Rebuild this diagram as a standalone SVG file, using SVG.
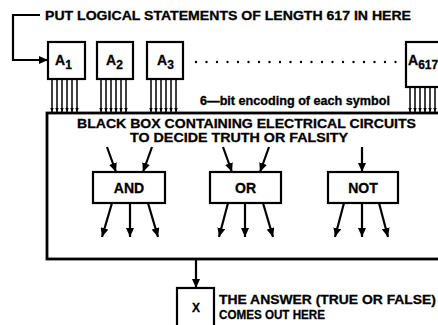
<svg xmlns="http://www.w3.org/2000/svg" width="438" height="325" viewBox="0 0 438 325">
<style>
text{font-family:"Liberation Sans",Arial,sans-serif;font-weight:bold;fill:#000;stroke:#000;stroke-width:0.3}
.box{fill:#fff;stroke:#000;stroke-width:2.2}
.big{fill:none;stroke:#000;stroke-width:2.8}
.ln{fill:none;stroke:#000;stroke-width:2.2}
.pin{fill:none;stroke:#000;stroke-width:1.5}
.lbl{font-size:14px;text-anchor:middle}
</style>
<defs>
<marker id="ah" markerUnits="userSpaceOnUse" markerWidth="10" markerHeight="8" refX="9" refY="4" orient="auto">
<path d="M0,0 L9,4 L0,8 Z" fill="#000"/>
</marker>
<marker id="ph" markerUnits="userSpaceOnUse" markerWidth="5" markerHeight="4" refX="4.5" refY="2" orient="auto">
<path d="M0,0 L4.5,2 L0,4 Z" fill="#000"/>
</marker>
<g id="pins">
<path class="pin" marker-end="url(#ph)" d="M4,0 V33"/>
<path class="pin" marker-end="url(#ph)" d="M9,0 V33"/>
<path class="pin" marker-end="url(#ph)" d="M14,0 V33"/>
<path class="pin" marker-end="url(#ph)" d="M19,0 V33"/>
<path class="pin" marker-end="url(#ph)" d="M24,0 V33"/>
<path class="pin" marker-end="url(#ph)" d="M29,0 V33"/>
</g>
</defs>
<rect width="438" height="325" fill="#fff"/>

<text x="45" y="19.5" font-size="12.5" textLength="366" lengthAdjust="spacingAndGlyphs">PUT LOGICAL STATEMENTS OF LENGTH 617 IN HERE</text>

<g id="connectors">
<path class="ln" marker-end="url(#ah)" d="M40,15 H13 V60 H48"/>
<use href="#pins" x="48" y="79"/>
<use href="#pins" x="97" y="79"/>
<use href="#pins" x="147" y="79"/>
<path class="pin" marker-end="url(#ph)" d="M410,87 V112"/>
<path class="pin" marker-end="url(#ph)" d="M415,87 V112"/>
<path class="pin" marker-end="url(#ph)" d="M420,87 V112"/>
<path class="pin" marker-end="url(#ph)" d="M425,87 V112"/>
<path class="pin" marker-end="url(#ph)" d="M430,87 V112"/>
<path class="pin" marker-end="url(#ph)" d="M435,87 V112"/>
<path class="ln" marker-end="url(#ah)" d="M107,147 L116,172"/>
<path class="ln" marker-end="url(#ah)" d="M152,147 L143,172"/>
<path class="ln" marker-end="url(#ah)" d="M223,147 L232,172"/>
<path class="ln" marker-end="url(#ah)" d="M269,147 L260,172"/>
<path class="ln" marker-end="url(#ah)" d="M362,147 V172"/>
<path class="ln" marker-end="url(#ah)" d="M112,203 L102,237"/>
<path class="ln" marker-end="url(#ah)" d="M130,203 V237"/>
<path class="ln" marker-end="url(#ah)" d="M148,203 L158,237"/>
<path class="ln" marker-end="url(#ah)" d="M228,203 L219,237"/>
<path class="ln" marker-end="url(#ah)" d="M245,203 V237"/>
<path class="ln" marker-end="url(#ah)" d="M263,203 L273,237"/>
<path class="ln" marker-end="url(#ah)" d="M344,203 L335,237"/>
<path class="ln" marker-end="url(#ah)" d="M362,203 V237"/>
<path class="ln" marker-end="url(#ah)" d="M379,203 L388,237"/>
<path class="ln" marker-end="url(#ah)" d="M196,259 V288"/>
</g>

<g id="A1"><rect class="box" x="48" y="42" width="37" height="37"/><text x="55" y="65" font-size="14">A<tspan font-size="12" dy="4">1</tspan></text></g>
<g id="A2"><rect class="box" x="97" y="42" width="36" height="37"/><text x="106" y="65" font-size="14">A<tspan font-size="12" dy="4">2</tspan></text></g>
<g id="A3"><rect class="box" x="147" y="42" width="36" height="37"/><text x="157" y="65" font-size="14">A<tspan font-size="12" dy="4">3</tspan></text></g>
<g id="dots" fill="#000">
<circle cx="196" cy="62" r="1.2"/><circle cx="206.5" cy="62" r="1.2"/><circle cx="217" cy="62" r="1.2"/><circle cx="227.5" cy="62" r="1.2"/><circle cx="238" cy="62" r="1.2"/><circle cx="248.5" cy="62" r="1.2"/><circle cx="259" cy="62" r="1.2"/><circle cx="269.5" cy="62" r="1.2"/><circle cx="280" cy="62" r="1.2"/><circle cx="290.5" cy="62" r="1.2"/><circle cx="301" cy="62" r="1.2"/><circle cx="311.5" cy="62" r="1.2"/><circle cx="322" cy="62" r="1.2"/><circle cx="332.5" cy="62" r="1.2"/><circle cx="343" cy="62" r="1.2"/><circle cx="353.5" cy="62" r="1.2"/><circle cx="364" cy="62" r="1.2"/><circle cx="374.5" cy="62" r="1.2"/><circle cx="385" cy="62" r="1.2"/><circle cx="395.5" cy="62" r="1.2"/>
</g>
<g id="A617"><rect class="box" x="406" y="42" width="40" height="45"/><text x="408" y="65" font-size="14">A<tspan font-size="12" dy="4">617</tspan></text></g>

<text x="200" y="105" font-size="12" textLength="190" lengthAdjust="spacingAndGlyphs">6—bit encoding of each symbol</text>

<g id="blackbox">
<rect class="big" x="47" y="113" width="400" height="146"/>
<text x="77" y="128" font-size="13" textLength="339" lengthAdjust="spacingAndGlyphs">BLACK BOX CONTAINING ELECTRICAL CIRCUITS</text>
<text x="130" y="142" font-size="13" textLength="218" lengthAdjust="spacingAndGlyphs">TO DECIDE TRUTH OR FALSITY</text>
</g>

<g id="AND"><rect class="box" x="93" y="172" width="72" height="31"/><text class="lbl" x="129" y="193">AND</text></g>
<g id="OR"><rect class="box" x="210" y="172" width="71" height="31"/><text class="lbl" x="245.5" y="193">OR</text></g>
<g id="NOT"><rect class="box" x="328" y="172" width="70" height="31"/><text class="lbl" x="363" y="193">NOT</text></g>

<g id="X"><rect class="box" x="177" y="288" width="37" height="45"/><text x="196" y="312" font-size="12" text-anchor="middle">X</text></g>

<text x="219" y="304" font-size="13" textLength="217" lengthAdjust="spacingAndGlyphs">THE ANSWER (TRUE OR FALSE)</text>
<text x="219" y="319" font-size="12.5" textLength="106" lengthAdjust="spacingAndGlyphs">COMES OUT HERE</text>
</svg>
